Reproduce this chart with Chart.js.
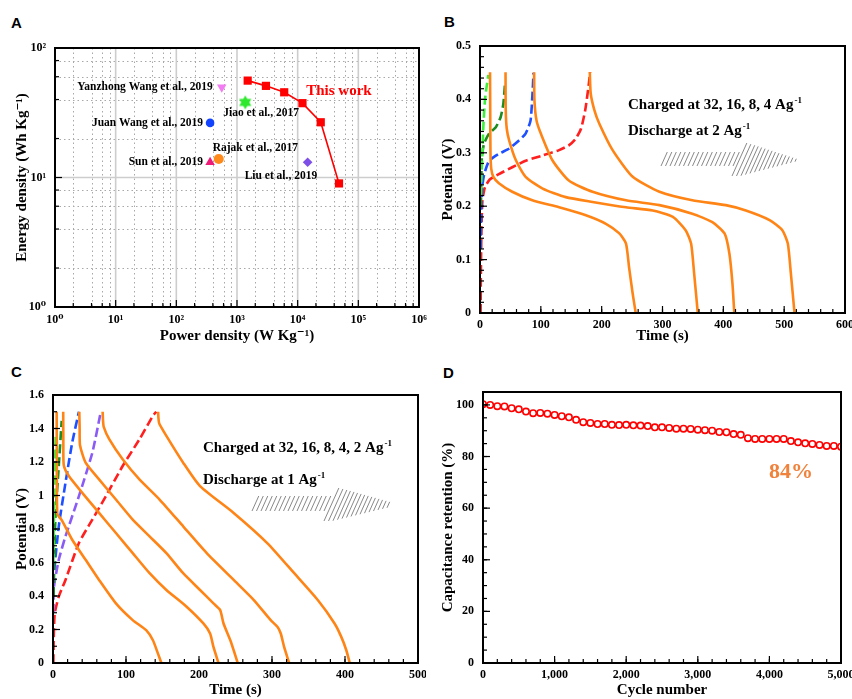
<!DOCTYPE html>
<html>
<head>
<meta charset="utf-8">
<script src="https://cdn.jsdelivr.net/npm/chart.js@4.4.1/dist/chart.umd.min.js"></script>
<style>
  body { margin: 0; background: #fff; width: 852px; height: 699px; position: relative; overflow: hidden; }
  .panel { position: absolute; }
  .tag { position: absolute; font: bold 15px "Liberation Sans", Arial, sans-serif; line-height: 15px; }
</style>
</head>
<body>
<div class="tag" style="left:11px;top:15px">A</div>
<div class="tag" style="left:444px;top:14px">B</div>
<div class="tag" style="left:11px;top:364px">C</div>
<div class="tag" style="left:443px;top:365px">D</div>

<div class="panel" style="left:0;top:0"><canvas id="chartA" width="440" height="345"></canvas></div>
<div class="panel" style="left:426px;top:0"><canvas id="chartB" width="426" height="345"></canvas></div>
<div class="panel" style="left:0;top:345px"><canvas id="chartC" width="426" height="354"></canvas></div>
<div class="panel" style="left:426px;top:345px"><canvas id="chartD" width="426" height="354"></canvas></div>

<script>
// ---- A: Ragone plot ----
const thisWorkPower = [1500, 3000, 6000, 12000, 24000, 48000]
const thisWorkEnergy = [56, 51, 45.5, 37.5, 26.7, 9]
const refNames = ['Yanzhong Wang et al., 2019', 'Jiao et al., 2017', 'Juan Wang et al., 2019', 'Rajak et al., 2017', 'Sun et al., 2019', 'Liu et al., 2019']
const refPower = [560, 1370, 360, 500, 360, 14600]
const refEnergy = [49.7, 38, 26.4, 13.9, 13.1, 13.1]
const refColors = ['#f27cf2', '#2ee82e', '#1244ff', '#ff8a1c', '#ee1a78', '#7d4fe6']
const logTicks = [1, 10, 100, 1000, 10000, 100000, 1000000]

// ---- B: charged at 32/16/8/4, discharged at 2 A/g ----
const bCharge32T = [1.5, 2.5, 3.8, 5.5, 8.2, 11, 13.7]
const bCharge32V = [0.22, 0.26, 0.293, 0.349, 0.399, 0.425, 0.446]
const bCharge16T = [1.5, 3, 6.6, 15, 26, 34, 38.4, 41]
const bCharge16V = [0.2, 0.29, 0.317, 0.336, 0.348, 0.367, 0.392, 0.428]
const bCharge8T = [1, 1.5, 2.5, 4, 7, 15, 31, 48, 64, 75, 83, 86, 88]
const bCharge8V = [0.12, 0.16, 0.21, 0.24, 0.26, 0.285, 0.298, 0.308, 0.323, 0.336, 0.36, 0.405, 0.45]
const bCharge4T = [1, 1.5, 2.5, 4, 8, 16, 31, 53, 75, 103, 130, 146, 157, 166, 173, 179, 181]
const bCharge4V = [0, 0.08, 0.16, 0.21, 0.235, 0.25, 0.26, 0.273, 0.285, 0.295, 0.305, 0.314, 0.326, 0.345, 0.38, 0.43, 0.451]
const bDis1T = [16.5, 16.8, 17.2, 18.5, 22, 31, 53, 86, 130, 174, 207, 229, 240, 245, 251, 256]
const bDis1V = [0.451, 0.38, 0.3, 0.27, 0.255, 0.243, 0.227, 0.211, 0.198, 0.183, 0.167, 0.149, 0.13, 0.086, 0.036, 0]
const bDis2T = [42, 42.3, 44, 48, 59, 75, 103, 141, 185, 240, 284, 317, 338, 347, 352, 358]
const bDis2V = [0.451, 0.38, 0.345, 0.323, 0.286, 0.255, 0.233, 0.217, 0.208, 0.198, 0.192, 0.18, 0.155, 0.13, 0.074, 0]
const bDis3T = [89, 89.5, 93, 100, 119, 146, 185, 240, 295, 349, 382, 402, 410, 415, 418]
const bDis3V = [0.451, 0.398, 0.36, 0.336, 0.286, 0.248, 0.227, 0.211, 0.202, 0.186, 0.17, 0.149, 0.111, 0.055, 0]
const bDis4T = [180.5, 182, 188, 196, 218, 251, 295, 349, 404, 437, 476, 497, 506, 511, 517]
const bDis4V = [0.451, 0.411, 0.38, 0.355, 0.305, 0.255, 0.227, 0.211, 0.202, 0.192, 0.174, 0.155, 0.13, 0.074, 0]

// ---- C: charged at 32/16/8/4/2, discharged at 1 A/g ----
const cCharge32T = [0.5, 1, 1.8, 2.7, 3.6]
const cCharge32V = [0.6, 0.8, 1.0, 1.2, 1.35]
const cCharge16T = [0.8, 1.4, 3.4, 7.9, 11.9]
const cCharge16V = [0.4, 0.576, 0.876, 1.176, 1.446]
const cCharge8T = [0.5, 1.4, 7.9, 17.1, 26.3, 35.5]
const cCharge8V = [0.4, 0.536, 0.816, 1.076, 1.316, 1.5]
const cCharge4T = [0.5, 1.4, 7.9, 17.1, 35.5, 53.9, 65.5]
const cCharge4V = [0.3, 0.456, 0.616, 0.756, 0.996, 1.256, 1.5]
const cCharge2T = [0.5, 1, 2.4, 7.9, 17.1, 35.5, 53.9, 72.4, 95.4, 118.5, 136.9, 141.6]
const cCharge2V = [0, 0.15, 0.296, 0.396, 0.496, 0.716, 0.856, 0.996, 1.176, 1.336, 1.476, 1.5]
const cDis1T = [5, 5.3, 6, 12.4, 26.3, 44.7, 63.1, 86.2, 109.2, 127.6, 136.9, 143.8, 148.4]
const cDis1V = [1.5, 1.2, 0.89, 0.85, 0.736, 0.616, 0.496, 0.356, 0.256, 0.196, 0.136, 0.056, 0]
const cDis2T = [14, 14.2, 14.8, 21.7, 40.1, 63.1, 86.2, 109.2, 132.3, 155.3, 183, 206, 215.2, 219.8, 226.7]
const cDis2V = [1.5, 1.3, 1.18, 1.116, 1.016, 0.896, 0.776, 0.656, 0.536, 0.436, 0.336, 0.236, 0.176, 0.096, 0]
const cDis3T = [36, 36.5, 37, 44.7, 63.1, 86.2, 109.2, 132.3, 155.3, 178.3, 201.4, 219.8, 229, 233.6, 242.9, 247.5, 253]
const cDis3V = [1.5, 1.4, 1.3, 1.196, 1.096, 0.976, 0.856, 0.756, 0.656, 0.536, 0.436, 0.356, 0.316, 0.236, 0.136, 0.076, 0]
const cDis4T = [68, 68.5, 69.5, 77, 95.4, 118.4, 146, 178.3, 210.6, 247.5, 275.1, 298.2, 307.4, 312, 316.6, 323.5]
const cDis4V = [1.5, 1.45, 1.41, 1.336, 1.216, 1.096, 0.976, 0.816, 0.656, 0.496, 0.376, 0.256, 0.216, 0.176, 0.096, 0]
const cDis5T = [144, 144.5, 145.5, 155.3, 178.3, 201.4, 247.5, 293.5, 330.4, 362.7, 385.7, 394.9, 401.8, 406.5]
const cDis5V = [1.5, 1.46, 1.43, 1.356, 1.196, 1.056, 0.896, 0.716, 0.536, 0.376, 0.236, 0.156, 0.076, 0]

// ---- D: cycling stability ----
const cycles = [0, 100, 200, 300, 400, 500, 600, 700, 800, 900, 1000, 1100, 1200, 1300, 1400, 1500, 1600, 1700, 1800, 1900, 2000,
  2100, 2200, 2300, 2400, 2500, 2600, 2700, 2800, 2900, 3000, 3100, 3200, 3300, 3400, 3500, 3600, 3700, 3800, 3900, 4000,
  4100, 4200, 4300, 4400, 4500, 4600, 4700, 4800, 4900, 5000]
const retention = [100.3, 100, 99.5, 99.4, 98.7, 98.3, 97.4, 96.8, 96.9, 96.6, 96.1, 95.6, 95.2, 94.2, 93.3, 93.0, 92.6, 92.6, 92.3, 92.2,
  92.3, 92.1, 92.0, 91.8, 91.3, 91.3, 91.1, 90.8, 90.8, 90.7, 90.4, 90.2, 90.0, 89.5, 89.4, 88.7, 88.4, 87.1, 86.8, 86.8,
  86.8, 86.8, 86.8, 86.0, 85.5, 85.1, 84.9, 84.5, 84.1, 84.1, 83.8]

const SERIF = '"Liberation Serif", "DejaVu Serif", serif'
const ORANGE = '#ff8416'
const SUP = ['⁰', '¹', '²', '³', '⁴', '⁵', '⁶']

function pts(ts, vs) { return ts.map((t, i) => ({ x: t, y: vs[i] })) }
function steps(a, b, s) { const out = []; for (let i = 0; a + i * s <= b + 1e-9; i++) out.push(+(a + i * s).toFixed(6)); return out }
// log grid / minor ticks sit at 2, 4, 6, 8 of each decade
function logMinor(e0, e1) { const out = []; for (let e = e0; e < e1; e++) [2, 4, 6, 8].forEach(k => out.push(k * Math.pow(10, e))); return out }

// filled six-point star used as a point style
function starImage(color, r) {
  const c = document.createElement('canvas')
  c.width = c.height = 2 * r + 2
  const g = c.getContext('2d')
  g.fillStyle = color
  g.beginPath()
  for (let i = 0; i < 12; i++) {
    const a = Math.PI / 6 * i - Math.PI / 2
    const rr = i % 2 ? r * 0.58 : r
    g.lineTo(r + 1 + rr * Math.cos(a), r + 1 + rr * Math.sin(a))
  }
  g.closePath()
  g.fill()
  return c
}

// grid, frame and inward ticks
Chart.register({
  id: 'frame',
  beforeDatasetsDraw(chart, args, opts) {
    if (!opts.grid) return
    const { ctx, chartArea: a, scales: { x, y } } = chart
    ctx.save()
    ctx.setLineDash([1.5, 3]); ctx.strokeStyle = '#a8a8a8'; ctx.lineWidth = 1
    opts.xMinor.forEach(v => { const p = Math.round(x.getPixelForValue(v)) + 0.5; ctx.beginPath(); ctx.moveTo(p, a.top); ctx.lineTo(p, a.bottom); ctx.stroke() })
    opts.yMinor.forEach(v => { const p = Math.round(y.getPixelForValue(v)) + 0.5; ctx.beginPath(); ctx.moveTo(a.left, p); ctx.lineTo(a.right, p); ctx.stroke() })
    ctx.setLineDash([]); ctx.strokeStyle = '#cdcdcd'; ctx.lineWidth = 1.6
    opts.xMajor.forEach(v => { const p = x.getPixelForValue(v); ctx.beginPath(); ctx.moveTo(p, a.top); ctx.lineTo(p, a.bottom); ctx.stroke() })
    opts.yMajor.forEach(v => { const p = y.getPixelForValue(v); ctx.beginPath(); ctx.moveTo(a.left, p); ctx.lineTo(a.right, p); ctx.stroke() })
    ctx.restore()
  },
  afterDraw(chart, args, opts) {
    if (!opts.xMajor) return
    const { ctx, chartArea: a, scales: { x, y } } = chart
    ctx.save()
    ctx.strokeStyle = '#000'
    ctx.lineWidth = 1.2
    const tick = (vals, len, horiz) => vals.forEach(v => {
      ctx.beginPath()
      if (horiz) { const p = x.getPixelForValue(v); ctx.moveTo(p, a.bottom); ctx.lineTo(p, a.bottom - len) }
      else { const p = y.getPixelForValue(v); ctx.moveTo(a.left, p); ctx.lineTo(a.left + len, p) }
      ctx.stroke()
    })
    tick(opts.xMajor, 7, true); tick(opts.xMinor, 4, true)
    tick(opts.yMajor, 7, false); tick(opts.yMinor, 4, false)
    ctx.lineWidth = 2
    ctx.strokeRect(a.left, a.top, a.right - a.left, a.bottom - a.top)
    ctx.restore()
  }
})

function supText(ctx, base, sup, x, y, size) {
  ctx.font = `bold ${size}px ${SERIF}`
  ctx.textAlign = 'left'
  ctx.textBaseline = 'alphabetic'
  ctx.fillText(base, x, y)
  const w = ctx.measureText(base).width
  ctx.font = `bold ${Math.round(size * 0.6)}px ${SERIF}`
  ctx.fillText(sup, w + x + 1, y - size * 0.42)
}

function hatch(ctx, x0, x1, top, bottom) {
  ctx.save()
  ctx.strokeStyle = '#6a6a6a'
  ctx.lineWidth = 0.8
  for (let px = x0; px <= x1; px += 4.5) {
    const t = top(px), b = bottom(px)
    if (b - t < 2) continue
    ctx.beginPath()
    ctx.moveTo(px, b)
    ctx.lineTo(px + (b - t) * 0.45, t)
    ctx.stroke()
  }
  ctx.restore()
}

const plainNum = v => String(+v.toFixed(3))
const commaNum = v => v.toLocaleString('en-US')

function axis(min, max, ticks, size, title, pad, titlePad, fmt) {
  return {
    type: 'linear', min: min, max: max,
    afterBuildTicks: s => { s.ticks = ticks.map(v => ({ value: v })) },
    afterFit: s => {
      if (s.isHorizontal()) s.height = size; else s.width = size
      s.paddingLeft = 0; s.paddingRight = 0; s.paddingTop = 0; s.paddingBottom = 0
    },
    grid: { display: false, drawTicks: false },
    border: { display: false },
    ticks: {
      color: '#000', font: { family: SERIF, size: 12, weight: 'bold' }, padding: pad, maxRotation: 0, autoSkip: false,
      callback: fmt || plainNum
    },
    title: { display: true, text: title, color: '#000', font: { family: SERIF, size: 15, weight: 'bold' }, padding: titlePad }
  }
}

function curve(ts, vs, color, dashed) {
  return {
    data: pts(ts, vs), showLine: true, pointRadius: 0, borderColor: color,
    borderWidth: 2.6, borderDash: dashed ? [9, 4] : [], tension: 0.2, fill: false
  }
}

const baseOpts = {
  responsive: false, animation: false,
  plugins: { legend: { display: false }, tooltip: { enabled: false } }
}

// ---------- A ----------
const logAxis = (min, max, size, title, pad, titlePad) => {
  const a = axis(min, max, logTicks.filter(v => v >= min && v <= max), size, title, pad, titlePad,
    v => '10' + SUP[Math.round(Math.log10(v))])
  a.type = 'logarithmic'
  return a
}

new Chart(document.getElementById('chartA'), {
  type: 'scatter',
  data: {
    datasets: [
      {
        data: pts(thisWorkPower, thisWorkEnergy), showLine: true, borderColor: '#ff0000', borderWidth: 1.6,
        pointStyle: 'rect', pointRadius: 5.8, pointBackgroundColor: '#ff0000', pointBorderWidth: 0
      },
      {
        data: pts(refPower, refEnergy), showLine: false,
        pointStyle: ['triangle', starImage(refColors[1], 7), 'circle', 'circle', 'triangle', 'rectRot'],
        pointRotation: [180, 0, 0, 0, 0, 0],
        pointRadius: [5.5, 7, 4.3, 5, 5.5, 4.8],
        pointBackgroundColor: refColors, pointBorderColor: refColors, pointBorderWidth: 0
      }
    ]
  },
  options: {
    ...baseOpts,
    layout: { padding: { left: 0, top: 48, right: 21, bottom: 0 } },
    scales: {
      x: logAxis(1, 1e6, 38, 'Power density (W Kg⁻¹)', 6, 0),
      y: logAxis(1, 100, 55, 'Energy density (Wh Kg⁻¹)', 9, 13)
    },
    plugins: {
      ...baseOpts.plugins,
      frame: { grid: true, xMajor: logTicks, xMinor: logMinor(0, 6), yMajor: [1, 10, 100], yMinor: logMinor(0, 2) }
    }
  },
  plugins: [{
    id: 'labelsA',
    afterDatasetsDraw(chart) {
      const { ctx, scales: { x, y } } = chart
      const dx = [-9, -22, -7, -6, -7, -63]
      const dy = [0, 11, 0, -11, 0, 14]
      const al = ['right', 'left', 'right', 'left', 'right', 'left']
      ctx.save()
      ctx.font = `bold 11.5px ${SERIF}`
      ctx.fillStyle = '#000'
      ctx.textBaseline = 'middle'
      refNames.forEach((n, i) => {
        ctx.textAlign = al[i]
        ctx.fillText(n, x.getPixelForValue(refPower[i]) + dx[i], y.getPixelForValue(refEnergy[i]) + dy[i])
      })
      ctx.font = `bold 15px ${SERIF}`
      ctx.fillStyle = '#ff0000'
      ctx.textAlign = 'left'
      ctx.fillText('This work', x.getPixelForValue(thisWorkPower[2]) + 22, y.getPixelForValue(thisWorkEnergy[2]) - 1)
      ctx.restore()
    }
  }]
})

// ---------- B ----------
new Chart(document.getElementById('chartB'), {
  type: 'scatter',
  data: {
    datasets: [
      curve(bDis1T, bDis1V, ORANGE), curve(bDis2T, bDis2V, ORANGE), curve(bDis3T, bDis3V, ORANGE), curve(bDis4T, bDis4V, ORANGE),
      curve(bCharge32T, bCharge32V, '#3cf03c', true), curve(bCharge16T, bCharge16V, '#1e8c1e', true),
      curve(bCharge8T, bCharge8V, '#1e50ff', true), curve(bCharge4T, bCharge4V, '#ff1f1f', true)
    ]
  },
  options: {
    ...baseOpts,
    layout: { padding: { left: 0, top: 46, right: 7, bottom: 0 } },
    scales: {
      x: axis(0, 600, steps(0, 600, 100), 32, 'Time (s)', 5, 0),
      y: axis(0, 0.5, steps(0, 0.5, 0.1), 54, 'Potential (V)', 9, 13)
    },
    plugins: {
      ...baseOpts.plugins,
      frame: { xMajor: steps(0, 600, 100), xMinor: steps(0, 600, 20), yMajor: steps(0, 0.5, 0.1), yMinor: steps(0, 0.5, 0.02) }
    }
  },
  plugins: [{
    id: 'textB',
    afterDatasetsDraw(chart) {
      const ctx = chart.ctx
      ctx.save()
      ctx.fillStyle = '#000'
      supText(ctx, 'Charged at 32, 16, 8, 4 Ag', '-1', 202, 109, 15)
      supText(ctx, 'Discharge at 2 Ag', '-1', 202, 135, 15)
      hatch(ctx, 235, 309, () => 152, () => 166)
      hatch(ctx, 306, 372, px => 143 + (px - 306) * 0.25, px => 176 - Math.max(0, px - 314) * 0.26)
      ctx.restore()
    }
  }]
})

// ---------- C ----------
new Chart(document.getElementById('chartC'), {
  type: 'scatter',
  data: {
    datasets: [
      curve(cDis1T, cDis1V, ORANGE), curve(cDis2T, cDis2V, ORANGE), curve(cDis3T, cDis3V, ORANGE),
      curve(cDis4T, cDis4V, ORANGE), curve(cDis5T, cDis5V, ORANGE),
      curve(cCharge32T, cCharge32V, '#3cf03c', true), curve(cCharge16T, cCharge16V, '#1e8c1e', true),
      curve(cCharge8T, cCharge8V, '#1e50ff', true), curve(cCharge4T, cCharge4V, '#8a5cf5', true),
      curve(cCharge2T, cCharge2V, '#ff1f1f', true)
    ]
  },
  options: {
    ...baseOpts,
    layout: { padding: { left: 0, top: 50, right: 8, bottom: 0 } },
    scales: {
      x: axis(0, 500, steps(0, 500, 100), 36, 'Time (s)', 5, 0),
      y: axis(0, 1.6, steps(0, 1.6, 0.2), 53, 'Potential (V)', 9, 13)
    },
    plugins: {
      ...baseOpts.plugins,
      frame: { xMajor: steps(0, 500, 100), xMinor: steps(0, 500, 20), yMajor: steps(0, 1.6, 0.2), yMinor: steps(0, 1.6, 0.1) }
    }
  },
  plugins: [{
    id: 'textC',
    afterDatasetsDraw(chart) {
      const ctx = chart.ctx
      ctx.save()
      ctx.fillStyle = '#000'
      supText(ctx, 'Charged at 32, 16, 8, 4, 2 Ag', '-1', 203, 107, 15)
      supText(ctx, 'Discharge at 1 Ag', '-1', 203, 139, 15)
      hatch(ctx, 252, 326, () => 151, () => 166)
      hatch(ctx, 324, 390, px => 143 + (px - 324) * 0.22, px => 176 - Math.max(0, px - 332) * 0.24)
      ctx.restore()
    }
  }]
})

// ---------- D ----------
new Chart(document.getElementById('chartD'), {
  type: 'scatter',
  data: {
    datasets: [{
      data: pts(cycles, retention), showLine: false, pointStyle: 'circle', pointRadius: 3.2,
      pointBorderWidth: 1.6, pointBorderColor: '#ff0000', pointBackgroundColor: '#ffffff'
    }]
  },
  options: {
    ...baseOpts,
    layout: { padding: { left: 0, top: 47, right: 11, bottom: 0 } },
    scales: {
      x: axis(0, 5000, steps(0, 5000, 1000), 36, 'Cycle number', 5, 0, commaNum),
      y: axis(0, 105, steps(0, 100, 20), 57, 'Capacitance retention (%)', 9, 13)
    },
    plugins: {
      ...baseOpts.plugins,
      frame: { xMajor: steps(0, 5000, 1000), xMinor: steps(0, 5000, 200), yMajor: steps(0, 100, 20), yMinor: steps(0, 100, 5) }
    }
  },
  plugins: [{
    id: 'textD',
    afterDatasetsDraw(chart) {
      const ctx = chart.ctx
      ctx.save()
      ctx.font = `bold 22px ${SERIF}`
      ctx.fillStyle = '#f0823c'
      ctx.textAlign = 'center'
      ctx.textBaseline = 'middle'
      ctx.fillText('84%', 365, 127)
      ctx.restore()
    }
  }]
})
</script>
</body>
</html>
